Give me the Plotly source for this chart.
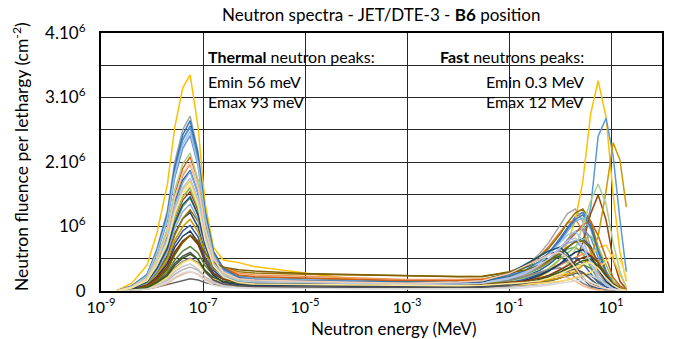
import plotly.graph_objects as go

# Neutron energy grid (MeV)
energy_MeV = [2e-9, 4e-9, 8e-9, 1.25e-8, 2e-8, 2.8e-8, 4e-8, 5.6e-8, 8e-8, 1.1e-7,
              1.6e-7, 2.5e-7, 5e-7, 1e-6, 1e-5, 1e-4, 1e-3, 1e-2, 3e-2, 0.1,
              0.2, 0.4, 0.6, 1.0, 1.4, 2.0, 2.8, 4.0, 5.6, 8.0, 11.0, 15.0, 20.0]

# Fluence per lethargy, in units of 10^6 cm^-2 (one list per spectrum)
s01 = [0, .07, .25, .61, 1.16, 1.87, 2.35, 2.56, 2.06, 1.20, .60, .33, .20, .17, .15, .13, .12, .12, .14, .22, .30, .46, .59, .82, .99, 1.15, 1.22, 1.04, .65, .29, .12, .04, 0]
s02 = [0, .05, .18, .46, .88, 1.42, 1.79, 1.97, 1.61, .98, .54, .34, .24, .21, .19, .17, .15, .16, .18, .27, .37, .54, .69, .91, 1.05, 1.11, .94, .60, .28, .13, .05, .02, 0]
s03 = [0, .08, .26, .66, 1.24, 2.00, 2.50, 2.71, 2.16, 1.24, .60, .31, .17, .14, .13, .11, .10, .11, .14, .24, .36, .58, .75, 1.02, 1.20, 1.27, 1.08, .67, .30, .13, .04, .01, 0]
s04 = [0, .12, .40, .90, 1.65, 2.54, 3.15, 3.35, 2.54, 1.36, .68, .48, .44, .38, .28, .18, .12, .12, .12, .14, .16, .22, .30, .50, .75, 1.10, 1.70, 2.75, 3.26, 2.70, 1.50, .60, .15]
s05 = [0, .07, .25, .61, 1.16, 1.87, 2.34, 2.54, 2.03, 1.17, .57, .30, .17, .14, .13, .11, .10, .10, .10, .11, .12, .14, .16, .20, .30, .45, .75, 1.30, 2.40, 2.68, 2.10, 1.10, .30]
s06 = [0, .04, .13, .33, .64, 1.03, 1.31, 1.44, 1.18, .73, .41, .26, .19, .17, .15, .13, .12, .13, .14, .19, .25, .35, .44, .57, .65, .68, .58, .37, .18, .08, .04, .01, 0]
s07 = [0, .03, .12, .29, .55, .89, 1.12, 1.22, .99, .60, .32, .19, .13, .11, .10, .09, .08, .10, .12, .25, .37, .49, .57, .62, .53, .36, .19, .08, .04, .02, .02, .01, 0]
s08 = [0, .04, .15, .36, .69, 1.12, 1.41, 1.54, 1.25, .75, .40, .24, .16, .14, .13, .11, .10, .10, .10, .11, .12, .14, .16, .20, .28, .45, .75, 1.20, 1.49, 1.10, .50, .15, .03]
s09 = [0, .01, .03, .06, .10, .14, .17, .19, .17, .13, .10, .08, .07, .07, .06, .055, .05, .05, .06, .07, .09, .12, .15, .20, .24, .27, .28, .24, .15, .07, .03, .01, 0]
s10 = [0, .03, .11, .27, .53, .87, 1.12, 1.26, 1.08, .73, .48, .37, .30, .28, .26, .25, .24, .23, .22, .30, .38, .54, .66, .88, 1.06, 1.21, 1.27, 1.08, .68, .31, .13, .04, 0]
s11 = [0, .05, .18, .45, .85, 1.37, 1.72, 1.87, 1.51, .89, .45, .26, .16, .14, .13, .11, .10, .10, .12, .17, .22, .32, .41, .55, .67, .77, .81, .69, .43, .20, .08, .03, 0]
s12 = [0, .02, .07, .18, .35, .59, .76, .86, .74, .51, .35, .27, .23, .21, .19, .17, .15, .16, .18, .27, .36, .44, .50, .53, .46, .33, .19, .11, .07, .05, .03, .02, 0]
s13 = [0, .07, .23, .58, 1.09, 1.76, 2.21, 2.41, 1.94, 1.13, .57, .32, .20, .17, .15, .13, .12, .12, .14, .20, .26, .38, .49, .66, .80, .92, .97, .83, .52, .23, .10, .03, 0]
s14 = [0, .04, .15, .36, .70, 1.14, 1.46, 1.61, 1.35, .86, .52, .36, .28, .25, .23, .20, .18, .18, .19, .22, .24, .28, .32, .40, .46, .52, .57, .59, .47, .28, .13, .05, .01]
s15 = [0, .01, .03, .08, .16, .26, .33, .37, .32, .22, .14, .11, .09, .08, .08, .07, .06, .06, .07, .10, .13, .18, .22, .29, .33, .34, .29, .19, .09, .04, .02, .01, 0]
s16 = [0, .05, .16, .41, .77, 1.25, 1.57, 1.71, 1.38, .82, .43, .25, .16, .14, .13, .11, .10, .10, .11, .12, .14, .16, .19, .24, .28, .34, .43, .56, .67, .71, .50, .25, .07]
s17 = [0, .05, .17, .43, .82, 1.33, 1.68, 1.85, 1.51, .92, .50, .31, .22, .20, .18, .16, .14, .14, .16, .24, .31, .45, .57, .77, .93, 1.08, 1.13, .96, .60, .27, .11, .04, 0]
s18 = [0, .05, .15, .38, .72, 1.16, 1.46, 1.59, 1.29, .77, .41, .24, .16, .14, .13, .11, .10, .10, .12, .16, .20, .27, .35, .49, .58, .69, .80, .85, .68, .39, .16, .06, .02]
s19 = [0, .03, .10, .24, .46, .74, .93, 1.02, .84, .51, .28, .18, .13, .11, .10, .09, .08, .09, .09, .13, .18, .26, .32, .42, .48, .51, .43, .27, .13, .06, .03, .01, 0]
s20 = [0, .06, .19, .49, .93, 1.50, 1.90, 2.08, 1.71, 1.04, .57, .36, .25, .22, .20, .18, .16, .16, .18, .23, .28, .37, .46, .64, .76, .89, 1.03, 1.08, .86, .50, .21, .08, .02]
s21 = [0, .01, .05, .11, .22, .36, .46, .51, .44, .29, .18, .13, .11, .10, .09, .08, .07, .08, .09, .16, .23, .29, .33, .36, .31, .21, .12, .06, .03, .02, .01, .01, 0]
s22 = [0, .03, .10, .25, .48, .79, 1.00, 1.11, .92, .59, .35, .24, .18, .17, .15, .13, .12, .12, .12, .13, .14, .15, .17, .20, .25, .30, .40, .55, .85, 1.55, 2.30, 2.03, 1.30]
s23 = [0, .08, .25, .63, 1.20, 1.93, 2.42, 2.64, 2.12, 1.24, .62, .35, .21, .18, .16, .15, .13, .13, .15, .23, .31, .45, .58, .79, .96, 1.11, 1.18, 1.00, .62, .28, .11, .04, 0]
s24 = [0, .02, .06, .15, .29, .48, .62, .69, .59, .39, .25, .19, .15, .14, .13, .11, .10, .10, .11, .13, .16, .20, .24, .30, .35, .40, .41, .35, .22, .11, .05, .02, 0]
s25 = [0, .04, .13, .31, .60, .97, 1.23, 1.35, 1.11, .68, .38, .24, .17, .15, .14, .12, .11, .12, .13, .19, .26, .39, .48, .64, .74, .78, .66, .42, .20, .09, .04, .01, 0]
s26 = [0, .01, .03, .06, .12, .20, .26, .30, .26, .18, .12, .09, .08, .07, .06, .06, .05, .06, .07, .11, .15, .20, .23, .24, .21, .15, .08, .04, .02, .02, .01, .01, 0]
s27 = [0, .01, .04, .10, .18, .30, .38, .42, .34, .22, .13, .08, .06, .06, .05, .04, .04, .04, .04, .06, .07, .09, .11, .14, .17, .20, .23, .24, .19, .11, .05, .02, 0]
s28 = [0, .01, .04, .11, .21, .34, .44, .49, .42, .29, .19, .15, .12, .11, .10, .09, .08, .08, .09, .09, .10, .12, .13, .15, .17, .21, .24, .29, .36, .46, .57, .48, .22]
s29 = [0, .07, .24, .60, 1.13, 1.82, 2.27, 2.47, 1.98, 1.14, .56, .29, .17, .14, .13, .11, .10, .11, .13, .20, .29, .44, .56, .75, .87, .92, .78, .49, .23, .10, .04, .01, 0]
s30 = [0, .06, .21, .51, .97, 1.57, 1.97, 2.14, 1.72, 1.00, .50, .27, .17, .14, .13, .11, .10, .10, .10, .12, .14, .18, .22, .30, .42, .65, 1.00, 1.40, 1.66, 1.35, .75, .30, .05]
s31 = [0, .03, .09, .22, .42, .68, .85, .93, .76, .45, .24, .14, .10, .08, .08, .07, .06, .06, .07, .11, .16, .24, .31, .42, .52, .60, .64, .54, .34, .15, .06, .02, 0]
s32 = [0, .02, .08, .20, .38, .61, .78, .86, .72, .45, .27, .18, .14, .13, .11, .10, .09, .09, .10, .13, .15, .20, .24, .33, .39, .45, .52, .55, .44, .25, .11, .04, .01]
s33 = [0, .02, .06, .14, .26, .43, .54, .60, .49, .30, .17, .11, .08, .07, .06, .06, .05, .05, .06, .09, .12, .17, .21, .28, .32, .34, .29, .18, .09, .04, .02, .01, 0]
s34 = [0, .02, .07, .17, .33, .56, .75, .86, .78, .59, .44, .37, .33, .31, .27, .25, .23, .22, .23, .28, .32, .40, .47, .59, .68, .76, .78, .66, .43, .21, .10, .04, 0]
s35 = [0, .04, .14, .35, .66, 1.06, 1.34, 1.46, 1.18, .71, .37, .22, .15, .13, .11, .10, .09, .11, .14, .27, .40, .54, .62, .68, .58, .39, .20, .09, .05, .03, .02, .01, 0]
s36 = [0, .02, .05, .13, .24, .40, .51, .57, .49, .32, .21, .15, .12, .11, .10, .09, .08, .08, .09, .11, .13, .18, .22, .29, .35, .41, .47, .49, .39, .23, .10, .04, .01]
s37 = [0, .05, .17, .42, .79, 1.28, 1.60, 1.75, 1.42, .84, .43, .25, .16, .14, .13, .11, .10, .11, .12, .19, .27, .40, .50, .67, .78, .82, .70, .44, .21, .09, .04, .01, 0]
s38 = [0, .06, .19, .47, .90, 1.45, 1.82, 1.99, 1.61, .96, .50, .29, .19, .17, .15, .13, .12, .14, .16, .27, .38, .49, .56, .60, .52, .36, .20, .10, .06, .04, .02, .01, 0]
s39 = [0, .01, .03, .07, .14, .22, .28, .31, .25, .16, .09, .06, .05, .04, .04, .03, .03, .03, .03, .04, .05, .07, .09, .12, .14, .16, .17, .14, .09, .04, .02, .01, 0]
s40 = [0, .05, .16, .40, .75, 1.21, 1.52, 1.65, 1.33, .78, .39, .22, .13, .11, .10, .09, .08, .08, .09, .11, .13, .16, .20, .27, .32, .37, .42, .44, .35, .20, .09, .03, .01]

spectra = [s01, s02, s03, s04, s05, s06, s07, s08, s09, s10, s11, s12, s13, s14, s15, s16,
           s17, s18, s19, s20, s21, s22, s23, s24, s25, s26, s27, s28, s29, s30, s31, s32,
           s33, s34, s35, s36, s37, s38, s39, s40]

colors = ["#4472C4", "#ED7D31", "#A5A5A5", "#FFC000", "#5B9BD5", "#70AD47",
          "#264478", "#9E480E", "#636363", "#997300", "#255E91", "#43682B",
          "#698ED0", "#F1975A", "#B7B7B7", "#FFCD33", "#7CAFDD", "#8CC168",
          "#335AA1", "#D26012", "#848484", "#CC9A00", "#3275B5", "#5A8A39",
          "#8FAADC", "#F4B183", "#C9C9C9", "#FFD966", "#9DC3E6", "#A9D18E",
          "#203864", "#843C0C", "#525252", "#7F6000", "#1F4E79", "#385723",
          "#B4C7E7", "#F8CBAD", "#DBDBDB", "#FFE699"]

x_tick_vals = [1e-9, 1e-7, 1e-5, 1e-3, 1e-1, 1e1]
x_tick_text = ["10<sup>-9</sup>", "10<sup>-7</sup>", "10<sup>-5</sup>",
               "10<sup>-3</sup>", "10<sup>-1</sup>", "10<sup>1</sup>"]
y_tick_vals = [0, 1, 2, 3, 4]
y_tick_text = ["0", "10<sup>6</sup>", "2.10<sup>6</sup>", "3.10<sup>6</sup>", "4.10<sup>6</sup>"]
y_minor_vals = [0.5, 1.5, 2.5, 3.5]

for s in spectra:
    assert len(s) == len(energy_MeV)

FONT = "Lato"
fig = go.Figure()
for s, c in zip(spectra, colors):
    fig.add_trace(go.Scatter(x=energy_MeV, y=s, mode="lines",
                             line=dict(color=c, width=1.5), showlegend=False,
                             hoverinfo="skip"))

grid_col = "#262626"
fig.update_layout(
    width=684, height=339, autosize=False,
    margin=dict(l=101, r=22, t=33, b=48),
    paper_bgcolor="white", plot_bgcolor="white",
    font=dict(family=FONT, color="#000000", size=15),
    xaxis=dict(type="log", range=[-9, 2], tickmode="array",
               tickvals=x_tick_vals, ticktext=x_tick_text,
               showgrid=True, gridcolor=grid_col, gridwidth=1,
               showline=True, linecolor="black", linewidth=2, mirror=True,
               ticks="", ticklabelstandoff=1, zeroline=False,
               tickfont=dict(family=FONT, size=16, color="black")),
    yaxis=dict(range=[0, 4], tickmode="array",
               tickvals=y_tick_vals, ticktext=y_tick_text,
               showgrid=True, gridcolor=grid_col, gridwidth=1,
               minor=dict(tickmode="array", tickvals=y_minor_vals, showgrid=True,
                          gridcolor=grid_col, gridwidth=1, ticks=""),
               showline=True, linecolor="black", linewidth=2, mirror=True,
               ticks="", ticklabelstandoff=10, zeroline=False,
               tickfont=dict(family=FONT, size=17, color="black")),
)

ann = []
def px2x(px):
    return (px - 101) / 561.0
def px2y(py):
    return (291 - py) / 258.0

ann.append(dict(text="Neutron spectra - JET/DTE-3 - <b>B6</b> position",
                x=px2x(381), y=px2y(14), xref="paper", yref="paper",
                xanchor="center", yanchor="middle", showarrow=False,
                font=dict(family=FONT, size=17)))
ann.append(dict(text="Neutron energy (MeV)",
                x=px2x(393), y=px2y(328), xref="paper", yref="paper",
                xanchor="center", yanchor="middle", showarrow=False,
                font=dict(family=FONT, size=17)))
ann.append(dict(text="Neutron fluence per lethargy (cm<sup>-2</sup>)",
                x=px2x(20), y=px2y(157), xref="paper", yref="paper",
                xanchor="center", yanchor="middle", showarrow=False,
                textangle=-90, font=dict(family=FONT, size=17.5)))
for txt, py in [("<b>Thermal</b> neutron peaks:", 56), ("Emin 56 meV", 81), ("Emax 93 meV", 101)]:
    ann.append(dict(text=txt, x=px2x(206), y=px2y(py), xref="paper", yref="paper",
                    xanchor="left", yanchor="middle", showarrow=False,
                    font=dict(family=FONT, size=16)))
for txt, py in [("<b>Fast</b> neutrons peaks:", 56), ("Emin 0.3 MeV", 81), ("Emax 12 MeV", 101)]:
    ann.append(dict(text=txt, x=px2x(586), y=px2y(py), xref="paper", yref="paper",
                    xanchor="right", yanchor="middle", showarrow=False,
                    font=dict(family=FONT, size=16)))
fig.update_layout(annotations=ann)

fig.write_html("out.html", config={"displayModeBar": False},
               post_script="document.body.style.margin='0';document.body.style.overflow='hidden';")
